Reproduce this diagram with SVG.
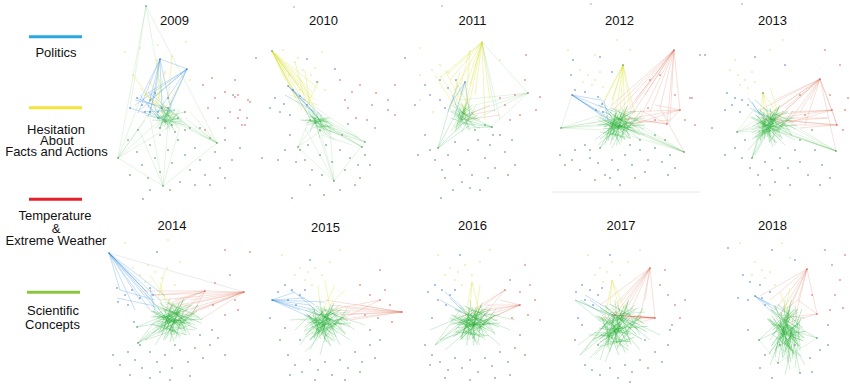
<svg xmlns="http://www.w3.org/2000/svg" width="850" height="384" viewBox="0 0 850 384">
<style>
.t{font-family:"Liberation Sans",Arial,sans-serif;font-size:13px;fill:#111;text-anchor:middle}
.lg{stroke-width:3;fill:none}
.e{fill:none;stroke-width:.6}
.eg{stroke:#1ea83a;stroke-opacity:.35}
.ef{stroke:#6cc46c;stroke-opacity:.3}
.eb{stroke:#2a86d8;stroke-opacity:.45}
.ey{stroke:#d6df2c;stroke-opacity:.55}
.er{stroke:#d9694f;stroke-opacity:.35}
.gr{stroke:#bbb;stroke-opacity:.5}
.core{fill:none;stroke:#1fae2e;stroke-opacity:.42;stroke-width:.65}
.d{fill:none;stroke-width:1.6;stroke-linecap:round}
.dg{stroke:#3b8a4a}
.db{stroke:#3a74c8}
.dy{stroke:#e6dd7a}
.dr{stroke:#d45050}
.dk{stroke:#999}
</style>
<defs>
  <path id="core" class="core" d="M-18 -13L16 3M-14 -7L8 13M-9 -16L22 -1M-4 -11L-12 17M0 -5L24 5M4 -15L-8 11M8 -9L-16 3M12 -3L-2 17M16 -13L-10 -1M20 -7L0 9M-15 0L12 -13M-10 7L18 -5M-5 13L7 -17M0 3L-20 -7M5 9L21 -13M10 3L-14 -15M15 7L-6 -9M-8 -3L20 11M-2 -15L10 15M-17 10L6 -7M-22 -7L5 7M-13 15L2 -11M-7 3L25 1M2 -1L-20 15M8 -19L-4 5"/>
</defs>
<rect width="850" height="384" fill="#fff"/>

<g id="legend">
  <line class="lg" x1="29" y1="36.7" x2="82" y2="36.7" stroke="#29a7e1"/>
  <text class="t" x="56" y="57">Politics</text>
  <line class="lg" x1="29" y1="107.7" x2="82" y2="107.7" stroke="#f3e53a"/>
  <text class="t" x="56" y="134">Hesitation</text>
  <text class="t" x="57" y="145">About</text>
  <text class="t" x="56.5" y="156">Facts and Actions</text>
  <line class="lg" x1="29" y1="199.3" x2="82" y2="199.3" stroke="#e5202a"/>
  <text class="t" x="55" y="220">Temperature</text>
  <text class="t" x="56" y="233">&amp;</text>
  <text class="t" x="56" y="245">Extreme Weather</text>
  <line class="lg" x1="27" y1="292.3" x2="80" y2="292.3" stroke="#8cc63f"/>
  <text class="t" x="53" y="315">Scientific</text>
  <text class="t" x="52.5" y="329">Concepts</text>
</g>

<g id="stray">
  <path class="d dk" d="M294 7h.01M442 6h.01M591 4h.01M742 4h.01"/>
  <line x1="552" y1="192" x2="700" y2="192" stroke="#e8e8e8" stroke-width="1"/>
</g>

<g id="panel-2009">
  <text class="t" x="174.5" y="25">2009</text>
  <g class="connectors">
    <path class="e ef" d="M146 6L118 158M146 6L217 143M146 6L165 112M118 158L163 186M163 186L217 143M118 158L150 112M118 158L160 120M118 158L172 125M118 158L140 100M163 186L150 118M163 186L168 122M163 186L180 126M163 186L140 132M217 143L165 115M217 143L175 122M217 143L185 118M217 143L160 108M217 143L195 126M217 143L190 112M217 143L200 135M146 6L130 108M118 158L145 120"/>
    <path class="e eg" d="M150 112L172 125M158 118L185 112M165 122L178 118M160 105L175 132M168 108L190 128M152 120L182 122M162 112L170 130M175 110L165 125M148 105L168 125M155 100L178 128M145 115L185 125M172 100L160 128"/>
    <use href="#core" transform="translate(167 118) scale(.6 .7)"/>
    <path class="e eb" d="M160 59L140 100M160 59L148 108M160 59L155 96M160 59L162 112M160 59L138 113M160 59L170 105M160 59L150 115M187 69L145 95M187 69L150 100M187 69L140 110M187 69L158 112M187 69L170 105M187 69L165 118M187 69L135 105M187 69L160 59M130 108L165 120M137 98L170 112M142 112L175 110M150 95L160 120M155 93L148 117M135 100L168 108M140 95L158 118M148 92L172 112"/>
    <path class="e ey" d="M150 82L165 110M157 60L160 100M165 72L155 110M145 95L175 115M140 88L170 118M178 88L160 115M133 75L155 105M172 56L168 100"/>
  </g>
  <path class="d dg" d="M146 6h.01M118 158h.01M163 186h.01M217 143h.01M143 199h.01M128 140h.01M137 152h.01M142 165h.01M150 145h.01M155 158h.01M160 172h.01M148 178h.01M168 150h.01M172 163h.01M178 140h.01M185 155h.01M190 170h.01M195 148h.01M200 160h.01M205 175h.01M210 138h.01M215 152h.01M220 168h.01M225 178h.01M232 160h.01M138 130h.01M180 182h.01M195 185h.01M170 190h.01M150 190h.01M240 148h.01M185 130h.01M130 175h.01M210 185h.01M225 140h.01M160 135h.01M200 128h.01M150 112h.01M158 118h.01M165 122h.01M172 125h.01M178 118h.01M185 112h.01M190 128h.01M168 108h.01M175 132h.01M160 128h.01"/>
  <path class="d dr" d="M203 85h.01M212 78h.01M225 92h.01M235 80h.01M248 100h.01M208 108h.01M218 118h.01M230 112h.01M242 125h.01M205 130h.01M225 128h.01M238 95h.01M215 98h.01M247 118h.01"/>
  <path class="d dy" d="M125 52h.01M140 48h.01M157 60h.01M172 56h.01M186 42h.01M133 75h.01M150 82h.01M165 72h.01M178 88h.01M145 95h.01M190 80h.01M158 45h.01"/>
  <path class="d db" d="M160 59h.01M187 69h.01M137 98h.01M142 105h.01M150 100h.01M155 93h.01M162 108h.01M168 98h.01M145 112h.01M158 112h.01M130 108h.01"/>
</g>

<g id="panel-2010">
  <text class="t" x="323.5" y="25">2010</text>
  <g class="connectors">
    <path class="e ey" d="M272 51L298 85M272 51L305 95M272 51L310 102M272 51L302 110M272 51L315 100M272 51L300 78M272 51L292 88M272 51L318 88M272 51L308 115M272 51L296 98M272 51L312 92M272 51L285 80M300 78L315 110M305 70L310 108M295 62L305 100M318 82L305 110M290 95L318 105M275 55L300 95M278 58L310 98"/>
    <path class="e eb" d="M288 86L305 100M288 86L312 110M288 86L318 118M295 92L320 120M292 88L310 118M300 96L322 116M285 95L315 112"/>
    <path class="e eg" d="M305 110L330 135M310 115L325 128M315 118L335 130M300 120L328 122M312 108L320 138M318 112L310 132M322 118L332 125M308 125L330 118M315 125L340 135M320 130L335 140"/>
    <use href="#core" transform="translate(318 122) rotate(35) scale(.7 .5)"/>
    <path class="e ef" d="M315 123L365 142M318 118L365 142M320 128L365 142M325 125L362 147M330 130L362 147M310 120L358 137M322 135L352 145M312 118L362 147M315 123L334 181M320 130L334 181M305 128L334 181M330 130L334 181M298 147L315 123M298 147L310 118M298 147L322 130M334 181L365 142M298 147L334 181M310 110L365 142M300 105L362 147M305 100L358 137"/>
  </g>
  <path class="d dy" d="M295 62h.01M303 70h.01M311 75h.01M318 82h.01M289 75h.01M300 90h.01M322 52h.01M283 50h.01M315 68h.01M325 90h.01M298 58h.01"/>
  <path class="d dr" d="M235 97h.01M240 110h.01M245 125h.01M238 118h.01M250 102h.01M340 80h.01M352 92h.01M360 85h.01M372 105h.01M367 120h.01M348 108h.01M376 93h.01M356 118h.01M375 128h.01M345 100h.01"/>
  <path class="d db" d="M275 98h.01M284 104h.01M293 90h.01M300 96h.01M307 105h.01M280 112h.01M270 108h.01M290 115h.01M256 58h.01M307 59h.01M335 69h.01M317 82h.01M288 86h.01"/>
  <path class="d dg" d="M272 51h.01M365 142h.01M362 147h.01M334 181h.01M298 147h.01M290 135h.01M300 150h.01M305 160h.01M312 170h.01M320 155h.01M326 145h.01M332 162h.01M340 150h.01M345 170h.01M350 158h.01M358 165h.01M365 155h.01M322 175h.01M308 145h.01M296 162h.01M285 150h.01M342 135h.01M348 124h.01M262 158h.01M278 160h.01M360 178h.01M370 165h.01M355 185h.01M340 190h.01M310 185h.01M324 195h.01M292 198h.01M233 95h.01M315 123h.01M320 130h.01M310 120h.01"/>
</g>

<g id="panel-2011">
  <text class="t" x="472.5" y="25">2011</text>
  <g class="connectors">
    <path class="e ey" d="M482 42L450 80M482 42L455 90M482 42L460 100M482 42L468 110M482 42L475 95M482 42L447 75M482 42L470 85M482 42L485 120M482 42L490 100M482 42L462 118M482 42L440 78M470 50L455 105M470 50L465 115M445 70L465 110M440 75L470 120M460 72L450 110M455 80L475 118M435 75L460 115"/>
    <path class="e eb" d="M465 82L450 105M465 82L455 115M465 82L460 95M465 82L470 115M458 85L448 112M452 95L462 120"/>
    <path class="e eg" d="M452 110L475 125M458 105L470 130M462 112L480 120M455 120L472 108M460 125L478 115M465 108L458 130M470 112L455 128M450 118L480 128M463 123L492 127M458 118L492 127M470 128L492 127M455 110L492 127M463 123L438 148M455 115L438 148M470 125L438 148M450 105L438 148"/>
    <use href="#core" transform="translate(463 117) scale(.6 .9)"/>
    <path class="e ef" d="M528 93L465 115M528 93L470 122M528 93L475 105M528 93L488 130M528 93L460 100M528 93L482 42M482 42L495 112M482 42L500 120"/>
    <path class="e er" d="M495 110L470 115M500 115L465 120M490 105L460 118"/>
  </g>
  <path class="d dg" d="M528 93h.01M492 127h.01M438 148h.01M425 135h.01M435 160h.01M442 170h.01M448 155h.01M455 142h.01M460 165h.01M468 150h.01M472 175h.01M478 140h.01M485 158h.01M490 145h.01M495 168h.01M500 135h.01M505 152h.01M512 140h.01M515 165h.01M470 188h.01M462 182h.01M480 190h.01M488 178h.01M445 178h.01M430 150h.01M418 155h.01M508 175h.01M453 190h.01M493 135h.01M475 130h.01M485 125h.01M441 198h.01"/>
  <path class="d dr" d="M525 80h.01M515 95h.01M505 105h.01M520 115h.01M510 120h.01M500 98h.01M388 100h.01M395 115h.01M388 110h.01M526 55h.01M395 85h.01"/>
  <path class="d db" d="M405 58h.01M425 85h.01M430 95h.01M440 100h.01M448 88h.01M440 80h.01M456 80h.01M415 105h.01M445 108h.01M465 82h.01"/>
  <path class="d dy" d="M482 42h.01M420 75h.01M432 70h.01M440 65h.01M448 72h.01M420 100h.01M433 112h.01M500 60h.01M420 48h.01"/>
</g>

<g id="panel-2012">
  <text class="t" x="619.5" y="25">2012</text>
  <g class="connectors">
    <path class="e er" d="M674 50L615 115M674 50L620 120M674 50L630 110M674 50L640 118M674 50L625 125M674 50L650 112M674 50L660 108M674 50L670 120M674 50L680 110M674 50L667 124M674 50L612 105M674 50L605 118M674 50L645 95M674 50L635 100M680 110L620 120M667 124L615 118M680 110L630 125M667 124L640 110M655 105L680 110M680 110L625 112M667 124L630 118M670 120L610 125M680 110L667 124M660 108L684 152"/>
    <path class="e ey" d="M623 65L605 100M623 65L610 110M623 65L615 120M623 65L620 115M623 65L625 125M623 65L598 112M623 65L635 115M623 65L612 100M623 65L630 105"/>
    <path class="e eb" d="M572 95L600 100M572 95L604 108M572 95L605 115M572 95L598 112M572 95L610 120M572 95L615 125M600 98L612 118M604 100L608 120M598 105L615 112"/>
    <path class="e eg" d="M600 115L640 125M605 110L630 135M610 120L645 118M615 108L625 140M620 112L605 135M625 118L640 130M612 125L635 110M608 130L630 122M618 115L612 140M630 115L620 138M603 120L638 132M615 125L645 135M622 108L628 130M610 112L640 140M600 148L615 120M600 148L620 125M605 145L612 118M595 140L618 122M612 148L625 120M598 145L630 118"/>
    <use href="#core" transform="translate(620 124)"/>
    <use href="#core" transform="translate(615 128) rotate(70) scale(.7 .9)"/>
    <path class="e ef" d="M561 128L600 115M561 128L610 120M561 128L615 125M561 128L620 118M561 128L605 130M561 128L625 122M561 128L572 95M684 152L615 120M684 152L620 125M684 152L630 130M684 152L625 115M684 152L640 128M684 152L650 140M684 152L610 118M684 152L605 128"/>
  </g>
  <path class="d dg" d="M623 65h.01M561 128h.01M684 152h.01M600 148h.01M560 155h.01M565 165h.01M572 160h.01M580 170h.01M590 158h.01M598 163h.01M605 175h.01M612 160h.01M618 170h.01M625 155h.01M632 165h.01M640 150h.01M648 160h.01M655 148h.01M662 162h.01M670 155h.01M675 168h.01M585 145h.01M620 185h.01M610 178h.01M635 178h.01M645 172h.01M595 180h.01M668 175h.01M575 150h.01M640 140h.01M655 135h.01M665 140h.01M590 150h.01M630 145h.01"/>
  <path class="d dy" d="M580 70h.01M588 75h.01M595 80h.01M600 72h.01M592 85h.01M603 87h.01M583 82h.01M568 50h.01M595 55h.01M617 40h.01M630 50h.01"/>
  <path class="d dr" d="M674 50h.01M680 110h.01M667 124h.01M650 80h.01M660 75h.01M675 95h.01M690 98h.01M685 120h.01M695 125h.01M655 120h.01M648 108h.01M540 97h.01M536 110h.01M700 55h.01"/>
  <path class="d db" d="M572 95h.01M573 60h.01M600 57h.01M575 90h.01M585 92h.01M598 97h.01M602 104h.01M596 110h.01M603 112h.01M571 75h.01M612 72h.01"/>
</g>

<g id="panel-2013">
  <text class="t" x="772.5" y="25">2013</text>
  <g class="connectors">
    <path class="e er" d="M820 79L760 110M820 79L765 118M820 79L770 125M820 79L780 115M820 79L790 120M820 79L800 112M820 79L832 110M820 79L837 125M820 79L805 125M820 79L775 100M820 79L785 108M820 79L810 100M820 79L772 112M832 110L765 120M832 110L770 115M832 110L780 125M832 110L790 112M837 125L760 118M837 125L775 120M837 125L790 125M828 118L770 122M828 118L785 118M837 125L800 128M832 110L837 125M820 79L836 151"/>
    <path class="e ey" d="M763 93L760 115M763 93L770 120M763 93L775 110M763 93L765 125M770 88L780 118"/>
    <path class="e eb" d="M748 98L765 120M752 102L760 115M750 108L770 118M755 100L768 112M757 110L772 125"/>
    <path class="e eg" d="M755 115L790 130M760 110L780 140M765 120L795 118M770 108L775 145M775 112L760 140M780 118L792 135M762 125L788 112M758 132L785 125M768 115L770 142M772 128L795 140M760 120L785 145M778 108L765 135M752 158L765 120M752 158L770 125M752 158L760 130M755 155L775 118M748 150L768 128"/>
    <use href="#core" transform="translate(772 124)"/>
    <use href="#core" transform="translate(768 128) rotate(-60) scale(.7 .9)"/>
    <path class="e ef" d="M836 151L765 120M836 151L770 128M836 151L780 130M836 151L775 118M836 151L790 135M836 151L805 140M836 151L760 125M836 151L785 120M737 132L760 118M737 132L765 125M737 132L770 120M737 132L775 130M737 132L755 108"/>
  </g>
  <path class="d dg" d="M836 151h.01M737 132h.01M752 158h.01M735 148h.01M742 158h.01M750 168h.01M758 175h.01M765 162h.01M772 170h.01M780 158h.01M788 168h.01M795 150h.01M800 162h.01M808 175h.01M815 150h.01M822 165h.01M830 178h.01M760 185h.01M775 182h.01M790 185h.01M770 195h.01M745 140h.01M800 140h.01M812 130h.01M725 155h.01M820 185h.01M763 93h.01"/>
  <path class="d dy" d="M730 70h.01M738 75h.01M745 80h.01M752 72h.01M740 85h.01M748 88h.01M755 82h.01M735 60h.01M783 40h.01M770 50h.01"/>
  <path class="d dr" d="M820 79h.01M832 110h.01M837 125h.01M825 50h.01M840 65h.01M848 98h.01M830 95h.01M845 110h.01M843 130h.01M800 95h.01M805 115h.01M692 98h.01"/>
  <path class="d db" d="M705 55h.01M755 57h.01M785 65h.01M727 93h.01M735 98h.01M742 100h.01M732 105h.01M748 105h.01M740 112h.01M725 110h.01M712 128h.01"/>
</g>

<g id="panel-2014">
  <text class="t" x="172" y="230">2014</text>
  <g class="connectors">
    <path class="e gr" d="M109 253L244 292"/>
    <path class="e eb" d="M109 253L148 293M109 253L152 298M109 253L155 305M109 253L160 300M109 253L150 310M109 253L145 290M109 253L165 296M109 253L158 312M109 253L140 300M109 253L135 310M109 253L120 290M120 290L155 300M117 298L150 305M150 288L155 312M145 293L160 310"/>
    <path class="e er" d="M244 292L160 300M244 292L165 310M244 292L170 315M244 292L180 305M244 292L190 300M244 292L175 320M244 292L185 315M244 292L205 291M244 292L195 310M244 292L150 295M244 292L200 320M205 291L155 295M205 291L165 305M205 291L175 300M205 291L180 315M205 291L160 310M205 291L190 318M205 291L140 291"/>
    <path class="e ey" d="M160 283L165 300M150 275L170 305M165 270L158 300"/>
    <path class="e eg" d="M150 305L195 320M155 315L185 300M160 300L175 335M165 310L200 318M170 298L160 330M175 305L190 335M180 312L150 325M185 320L165 338M190 305L170 330M155 325L195 330M162 318L188 310M172 325L198 305M158 308L180 338M168 300L185 328M138 343L160 315M138 343L170 320M138 343L175 310M137 327L165 315M137 327L180 320M145 340L170 318M155 345L175 315M165 340L180 310M185 335L165 310M195 325L170 312M138 343L185 318M145 340L190 325"/>
    <use href="#core" transform="translate(175 318) scale(1.1 1)"/>
    <use href="#core" transform="translate(170 322) rotate(75) scale(.8 1)"/>
  </g>
  <path class="d dg" d="M138 343h.01M137 327h.01M113 355h.01M120 365h.01M128 352h.01M135 360h.01M142 368h.01M150 352h.01M157 362h.01M165 355h.01M172 368h.01M180 350h.01M188 362h.01M195 348h.01M203 358h.01M210 345h.01M218 338h.01M225 355h.01M130 375h.01M150 378h.01M170 380h.01M190 376h.01M160 372h.01M140 345h.01M200 335h.01M212 330h.01M175 345h.01"/>
  <path class="d dy" d="M133 268h.01M140 275h.01M148 265h.01M155 272h.01M162 278h.01M167 268h.01M145 282h.01M125 243h.01M168 240h.01M180 262h.01M175 285h.01"/>
  <path class="d dr" d="M244 292h.01M205 291h.01M225 250h.01M230 275h.01M215 283h.01M235 300h.01M238 310h.01M225 315h.01M213 305h.01M250 252h.01"/>
  <path class="d db" d="M109 253h.01M117 288h.01M125 295h.01M132 290h.01M140 298h.01M128 305h.01M150 288h.01M153 295h.01M118 302h.01M157 252h.01M134 322h.01"/>
</g>

<g id="panel-2015">
  <text class="t" x="325.5" y="232">2015</text>
  <g class="connectors">
    <path class="e eb" d="M272 300L310 305M272 300L315 310M272 300L320 315M272 300L305 298M272 300L325 302M272 300L300 310M272 300L312 318M272 300L295 292M290 290L315 305M298 295L318 312"/>
    <path class="e er" d="M402 312L320 310M402 312L330 305M402 312L340 315M402 312L335 320M402 312L325 300M402 312L345 308M402 312L350 320M402 312L360 305M402 312L315 315M380 300L330 310M380 300L340 320"/>
    <path class="e ey" d="M318 285L320 305M325 280L330 310M335 285L322 312M345 290L330 305"/>
    <path class="e eg" d="M305 310L345 325M310 305L335 340M315 315L350 312M320 300L325 342M325 310L305 330M330 305L345 335M335 315L310 340M340 310L318 330M300 320L348 320M312 325L340 305M320 335L345 315M308 315L330 345M328 318L315 340M318 308L342 330M300 345L320 315M310 350L325 320M320 355L330 318M340 345L325 315M355 330L330 312M365 325L335 315M295 330L315 310M290 320L320 318M305 352L335 320M350 340L320 320"/>
    <use href="#core" transform="translate(326 322)"/>
    <use href="#core" transform="translate(322 326) rotate(-70) scale(.8 1)"/>
  </g>
  <path class="d dg" d="M280 340h.01M288 355h.01M295 365h.01M302 372h.01M310 360h.01M318 370h.01M325 362h.01M332 375h.01M340 360h.01M348 368h.01M355 352h.01M362 362h.01M370 345h.01M375 358h.01M380 340h.01M290 375h.01M315 380h.01M345 380h.01M360 372h.01M285 328h.01M370 330h.01M300 340h.01"/>
  <path class="d dy" d="M300 268h.01M308 272h.01M315 268h.01M322 275h.01M305 280h.01M312 285h.01M295 275h.01M330 262h.01M282 255h.01M340 250h.01"/>
  <path class="d dr" d="M402 312h.01M380 300h.01M360 285h.01M370 295h.01M385 290h.01M390 305h.01M378 318h.01M392 322h.01M365 315h.01M380 270h.01"/>
  <path class="d db" d="M272 300h.01M285 285h.01M292 290h.01M300 295h.01M288 300h.01M296 305h.01M278 292h.01M305 290h.01M310 260h.01M270 318h.01"/>
</g>

<g id="panel-2016">
  <text class="t" x="472.5" y="230">2016</text>
  <g class="connectors">
    <path class="e er" d="M520 305L465 315M520 305L470 320M520 305L480 310M520 305L490 318M520 305L475 325M520 305L485 305M505 290L470 315M505 290L480 320M505 290L460 318M520 305L500 300"/>
    <path class="e ey" d="M472 282L470 310M472 282L465 318M472 282L480 315M480 285L475 320"/>
    <path class="e eb" d="M445 292L465 310M450 298L470 318M440 300L462 312"/>
    <path class="e eg" d="M455 310L495 325M460 305L485 340M465 315L500 315M470 300L475 342M475 310L455 330M480 305L495 335M485 315L460 340M490 310L468 330M450 320L498 320M462 325L490 305M470 335L495 315M458 315L480 345M478 318L465 340M468 308L492 330M455 335L488 312M462 340L482 310M435 345L465 318M435 345L470 325M440 340L475 315M445 350L480 320M435 345L460 310M440 340L485 325M500 345L470 320M510 330L475 315M515 320L470 310M430 330L465 315"/>
    <use href="#core" transform="translate(474 322) scale(1.05 1)"/>
    <use href="#core" transform="translate(470 326) rotate(65) scale(.8 1)"/>
  </g>
  <path class="d dg" d="M425 345h.01M432 355h.01M440 362h.01M448 370h.01M455 358h.01M462 368h.01M470 360h.01M478 372h.01M485 358h.01M492 366h.01M500 352h.01M508 362h.01M515 348h.01M520 335h.01M525 355h.01M445 378h.01M470 380h.01M495 378h.01M430 365h.01M510 375h.01"/>
  <path class="d dy" d="M450 268h.01M458 272h.01M465 265h.01M472 275h.01M455 280h.01M462 285h.01M445 275h.01M480 262h.01M438 255h.01M490 250h.01"/>
  <path class="d dr" d="M520 305h.01M505 290h.01M510 280h.01M520 292h.01M530 285h.01M535 300h.01M528 315h.01M540 320h.01M512 318h.01M525 265h.01"/>
  <path class="d db" d="M435 285h.01M442 290h.01M450 295h.01M438 300h.01M446 305h.01M428 292h.01M455 290h.01M460 255h.01M432 318h.01"/>
</g>

<g id="panel-2017">
  <text class="t" x="621" y="230">2017</text>
  <g class="connectors">
    <path class="e er" d="M650 268L610 310M650 268L615 315M650 268L620 320M650 268L630 312M650 268L640 318M650 268L600 305M650 268L625 305M650 268L655 318M650 268L645 300M650 268L605 320M655 318L610 312M655 318L620 318M655 318L630 325M655 318L600 318"/>
    <path fill="none" stroke="#e0402a" stroke-opacity=".6" stroke-width="1.2" d="M612 315L655 318"/>
    <path class="e ey" d="M612 280L610 305M612 280L620 312M612 280L605 318M612 280L625 310"/>
    <path class="e eb" d="M585 295L610 310M590 300L615 318M580 300L605 315"/>
    <path class="e eg" d="M600 310L640 325M605 305L630 340M610 315L645 312M615 300L620 342M620 310L600 330M625 305L640 335M630 315L605 340M635 310L612 330M598 320L642 320M608 325L635 305M615 335L640 315M602 315L625 345M622 318L610 340M612 308L638 330M580 355L610 318M580 355L620 322M585 350L615 312M590 358L625 320M600 360L615 315M578 345L620 315M595 355L630 318M605 362L620 325M575 300L610 315M575 300L620 320M575 300L605 325M640 350L615 320M650 340L620 315M660 335L625 318"/>
    <use href="#core" transform="translate(620 325) scale(1.1 1.3)"/>
    <use href="#core" transform="translate(612 335) rotate(40) scale(.9 1)"/>
  </g>
  <path class="d dg" d="M575 340h.01M585 365h.01M592 370h.01M600 375h.01M610 368h.01M618 378h.01M625 365h.01M632 372h.01M640 360h.01M648 368h.01M655 352h.01M662 362h.01M668 345h.01M670 330h.01M582 325h.01M598 345h.01M645 340h.01M610 385h.01M630 382h.01"/>
  <path class="d dy" d="M600 268h.01M607 272h.01M612 262h.01M620 275h.01M603 282h.01M595 275h.01M628 262h.01M588 255h.01M640 250h.01"/>
  <path class="d dr" d="M650 268h.01M655 318h.01M660 285h.01M668 295h.01M675 305h.01M680 318h.01M672 325h.01M665 270h.01M685 300h.01"/>
  <path class="d db" d="M582 285h.01M590 290h.01M598 295h.01M585 300h.01M593 305h.01M576 292h.01M602 288h.01M610 255h.01M578 318h.01"/>
</g>

<g id="panel-2018">
  <text class="t" x="772.5" y="230">2018</text>
  <g class="connectors">
    <path class="e er" d="M807 269L775 310M807 269L780 315M807 269L785 320M807 269L790 305M807 269L798 300M807 269L817 314M807 269L770 300M807 269L795 318M807 269L760 296M817 314L780 318M817 314L790 322M798 300L778 315M817 314L798 300"/>
    <path class="e eb" d="M755 296L775 310M755 296L778 318M755 296L770 305M755 296L785 312"/>
    <path class="e ey" d="M790 288L785 310M780 292L790 320"/>
    <path class="e eg" d="M772 310L800 330M775 305L790 350M780 315L805 318M785 300L782 355M790 310L770 340M795 305L800 345M778 325L798 312M770 320L802 338M782 330L795 358M788 318L775 350M792 335L780 312M776 340L800 322M785 345L790 305M778 363L785 320M800 373L790 325M790 370L780 320M785 375L795 330M770 365L785 325M817 338L785 320M817 338L790 330M759 340L780 320M759 340L790 325M805 365L785 330M795 368L800 320"/>
    <use href="#core" transform="translate(785 330) scale(.8 1.6)"/>
    <use href="#core" transform="translate(787 335) rotate(80) scale(1.1 .8)"/>
    <path class="e ef" d="M817 338L778 363M759 340L778 363"/>
  </g>
  <path class="d dg" d="M778 363h.01M800 373h.01M817 338h.01M759 340h.01M765 355h.01M760 368h.01M772 378h.01M810 358h.01M820 350h.01M828 345h.01M812 372h.01M748 330h.01M828 325h.01M795 345h.01M780 345h.01"/>
  <path class="d dy" d="M740 243h.01M782 243h.01M755 262h.01M762 270h.01M770 272h.01M765 278h.01M752 275h.01M775 285h.01M790 258h.01"/>
  <path class="d dr" d="M807 269h.01M817 314h.01M825 250h.01M832 265h.01M840 280h.01M835 295h.01M843 308h.01M830 310h.01M812 295h.01M845 255h.01"/>
  <path class="d db" d="M755 296h.01M728 248h.01M772 250h.01M795 260h.01M743 275h.01M750 282h.01M760 285h.01M762 298h.01M748 300h.01M738 298h.01M770 292h.01M765 305h.01"/>
</g>
</svg>
